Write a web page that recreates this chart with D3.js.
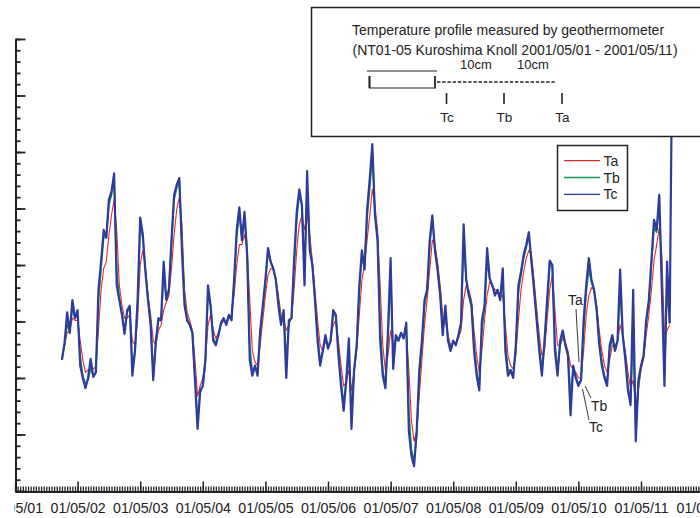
<!DOCTYPE html>
<html>
<head>
<meta charset="utf-8">
<script src="https://cdn.jsdelivr.net/npm/d3@7"></script>
<style>
  html, body { margin: 0; padding: 0; background: #fff; }
  svg { display: block; font-family: "Liberation Sans", Arial, Helvetica, sans-serif; }
</style>
</head>
<body>
<div id="chart"></div>
<script>
// ── Data (hourly readings, starting 2001/05/01 18:00) ──────────────
const startHour = 18;

const tc = [
  11.6, 13.1, 15.8, 14.0, 16.9, 15.3, 16.0, 11.1, 10.0, 9.1,
  10.0, 11.7, 10.1, 10.5, 17.8, 20.3, 23.1, 22.4, 25.8, 26.5,
  28.1, 18.2, 16.9, 15.6, 13.9, 16.0, 16.4, 10.2, 12.4, 16.9,
  24.2, 22.7, 19.4, 16.9, 14.7, 9.8, 13.3, 15.3, 15.1, 20.3,
  16.9, 17.8, 22.2, 26.2, 27.1, 27.7, 21.3, 16.4, 15.1, 14.7,
  14.0, 9.8, 5.5, 8.9, 9.3, 11.6, 18.2, 16.4, 13.3, 12.9,
  13.8, 14.9, 15.3, 14.7, 15.6, 15.1, 18.7, 23.1, 25.1, 22.2,
  24.7, 20.9, 11.6, 10.2, 11.1, 10.2, 14.2, 16.4, 18.7, 21.5,
  20.3, 19.7, 18.7, 16.4, 14.7, 16.0, 10.0, 15.1, 15.3, 20.4,
  24.7, 26.7, 25.3, 18.2, 28.3, 21.3, 20.0, 16.9, 13.3, 11.1,
  12.4, 13.8, 12.6, 13.3, 16.0, 15.6, 12.0, 9.3, 7.1, 9.8,
  13.5, 5.5, 10.7, 12.9, 18.2, 21.3, 19.6, 24.9, 27.6, 30.7,
  24.4, 22.2, 13.3, 10.2, 9.1, 14.2, 20.6, 10.8, 13.8, 13.3,
  14.0, 13.5, 14.9, 5.3, 3.1, 2.2, 5.3, 10.7, 13.3, 16.9,
  17.8, 22.2, 24.4, 21.3, 19.6, 17.3, 13.8, 16.4, 13.3, 12.4,
  13.3, 12.9, 13.8, 14.9, 23.6, 18.7, 17.3, 16.4, 12.4, 10.2,
  8.9, 15.1, 16.4, 21.5, 18.8, 18.2, 17.3, 17.8, 16.9, 19.7,
  12.4, 10.2, 10.7, 10.0, 12.9, 18.2, 19.4, 20.9, 21.8, 22.9,
  20.3, 17.8, 15.1, 12.4, 10.2, 13.3, 16.9, 20.4, 20.0, 12.4,
  10.2, 13.3, 14.2, 12.9, 12.0, 6.7, 11.1, 10.0, 9.3, 9.8,
  15.1, 18.2, 20.6, 18.7, 17.8, 16.0, 12.9, 11.1, 10.0, 9.3,
  12.9, 13.8, 12.4, 13.3, 19.6, 13.8, 11.6, 8.9, 7.6, 17.8,
  4.4, 9.8, 11.1, 12.0, 15.1, 16.9, 20.4, 24.0, 23.1, 26.2,
  17.8, 9.3, 20.3, 14.9, 40.0
];

const tb = [
  11.7, 12.9, 14.7, 14.2, 16.2, 15.3, 15.6, 12.0, 10.2, 9.5,
  9.8, 10.8, 10.2, 10.5, 16.9, 19.7, 22.4, 22.6, 25.3, 26.2,
  27.6, 19.6, 17.1, 15.7, 14.2, 15.8, 16.2, 11.1, 12.3, 16.4,
  23.6, 22.4, 19.6, 17.1, 14.9, 10.5, 12.9, 15.1, 15.1, 19.1,
  17.1, 17.8, 21.8, 25.8, 26.8, 27.4, 22.2, 16.9, 15.3, 14.7,
  14.0, 10.2, 6.2, 8.7, 9.3, 11.4, 17.3, 16.4, 13.5, 13.1,
  13.8, 14.8, 15.3, 14.8, 15.5, 15.3, 18.2, 22.4, 24.7, 22.4,
  24.2, 21.3, 12.9, 10.5, 11.0, 10.5, 13.8, 16.2, 18.4, 21.2,
  20.3, 19.7, 18.7, 16.7, 14.9, 15.8, 11.6, 14.9, 15.3, 19.7,
  24.0, 26.2, 25.3, 19.6, 27.1, 21.8, 20.0, 17.1, 13.8, 11.6,
  12.3, 13.6, 12.7, 13.3, 15.6, 15.5, 12.4, 9.8, 7.8, 9.6,
  12.4, 6.7, 10.5, 12.7, 17.6, 20.9, 19.7, 24.2, 26.8, 29.8,
  24.7, 22.4, 14.7, 10.7, 9.3, 13.5, 19.1, 11.6, 13.5, 13.3,
  13.9, 13.6, 14.7, 7.1, 3.6, 2.7, 4.9, 10.0, 12.9, 16.4,
  17.6, 21.8, 24.0, 21.5, 19.7, 17.6, 14.2, 15.8, 13.5, 12.6,
  13.2, 13.0, 13.7, 14.8, 21.8, 18.7, 17.5, 16.6, 12.9, 10.7,
  9.2, 14.2, 16.2, 20.3, 18.8, 18.2, 17.4, 17.8, 16.9, 18.8,
  13.2, 10.7, 10.7, 10.2, 12.4, 17.6, 19.1, 20.6, 21.5, 22.6,
  20.4, 18.0, 15.4, 12.8, 10.7, 12.9, 16.4, 19.9, 20.0, 13.3,
  10.7, 12.9, 14.0, 13.0, 12.1, 8.4, 10.8, 10.1, 9.5, 9.8,
  14.2, 17.6, 19.6, 18.5, 17.8, 16.2, 13.3, 11.4, 10.2, 9.6,
  12.4, 13.5, 12.6, 13.2, 17.8, 13.8, 11.9, 9.3, 8.0, 14.2,
  5.3, 9.3, 11.0, 12.0, 14.9, 16.7, 20.0, 23.3, 22.9, 25.6,
  18.7, 10.2, 17.8, 14.9
];

const ta = [
  12.0, 12.9, 14.0, 14.2, 15.3, 15.1, 15.1, 13.3, 11.6, 10.5,
  10.7, 10.8, 10.8, 11.0, 14.2, 17.8, 19.7, 20.3, 22.7, 24.4,
  25.8, 23.1, 18.2, 16.4, 15.3, 15.3, 15.6, 13.3, 12.9, 15.1,
  20.0, 21.3, 19.7, 17.3, 15.6, 13.3, 12.9, 14.2, 14.7, 16.0,
  16.7, 17.3, 19.7, 22.7, 24.9, 26.0, 23.6, 17.8, 15.8, 15.1,
  14.2, 11.6, 8.4, 9.3, 10.0, 11.6, 14.7, 15.6, 14.2, 13.5,
  14.0, 14.7, 15.1, 14.9, 15.3, 15.6, 17.3, 20.0, 21.8, 21.8,
  22.7, 21.3, 16.9, 12.4, 11.4, 11.1, 12.9, 15.1, 17.3, 19.1,
  19.7, 19.6, 18.8, 17.3, 15.6, 15.3, 14.2, 14.7, 15.3, 17.8,
  21.3, 23.6, 24.4, 23.1, 24.4, 22.7, 20.4, 17.8, 15.1, 12.9,
  12.4, 13.2, 12.9, 13.3, 14.7, 15.1, 13.3, 11.1, 9.3, 9.6,
  10.7, 8.9, 10.7, 12.4, 15.6, 18.7, 20.0, 22.2, 24.4, 26.7,
  25.3, 23.1, 18.2, 12.9, 10.7, 12.0, 14.2, 12.9, 13.3, 13.5,
  13.8, 13.8, 14.2, 10.7, 6.2, 4.4, 5.3, 8.4, 11.6, 14.7,
  16.9, 19.6, 22.2, 21.8, 20.3, 18.2, 15.6, 15.1, 13.8, 12.9,
  13.2, 13.1, 13.5, 14.2, 16.9, 18.2, 17.8, 16.9, 14.2, 12.0,
  10.5, 12.4, 15.1, 17.3, 18.5, 18.2, 17.8, 17.8, 17.1, 17.3,
  14.7, 12.0, 11.1, 10.8, 12.0, 15.1, 17.8, 19.4, 20.6, 21.3,
  20.9, 18.7, 16.2, 13.8, 12.0, 12.4, 15.1, 17.8, 19.1, 16.0,
  12.9, 12.9, 13.5, 13.2, 12.4, 11.1, 10.8, 10.5, 10.0, 10.0,
  12.4, 15.6, 17.3, 18.0, 17.8, 16.4, 14.2, 12.4, 11.1, 10.5,
  11.6, 12.9, 12.9, 13.2, 14.7, 13.8, 12.4, 10.5, 9.1, 9.8,
  7.6, 8.9, 10.7, 11.7, 13.8, 15.6, 17.8, 20.4, 21.8, 23.3,
  20.9, 13.8, 14.2, 14.7
];

const series = [
  { name: "Ta", values: ta, color: "#e8262e", width: 1.1 },
  { name: "Tb", values: tb, color: "#14985a", width: 1.6 },
  { name: "Tc", values: tc, color: "#2d3c9c", width: 2.2 }
];

const dayStart = new Date(2001, 4, 1);
const dayEnd   = new Date(2001, 4, 12);
const yMajor = d3.range(0, 41, 5);
const yMinor = d3.range(0, 41, 1);

// ── Layout ─────────────────────────────────────────────────────────
const W = 700, H = 518;
const plot = { left: 15.5, top: 39, bottom: 491.5, dayPx: 62.6 };

const svg = d3.select("#chart").append("svg")
  .attr("width", W).attr("height", H);

const x = d3.scaleTime()
  .domain([dayStart, dayEnd])
  .range([15, 15 + plot.dayPx * 11]);

const y = d3.scaleLinear()
  .domain([0, 40])
  .range([plot.bottom - 0.5, plot.top]);

const dateAt = i => d3.timeHour.offset(dayStart, startHour + i);

svg.append("clipPath").attr("id", "plotClip")
  .append("rect")
  .attr("x", plot.left).attr("y", plot.top)
  .attr("width", W - plot.left).attr("height", plot.bottom - plot.top);

// ── Lines ──────────────────────────────────────────────────────────
const line = d3.line()
  .defined(d => d != null)
  .x((d, i) => x(dateAt(i)))
  .y(d => y(d));

const lines = svg.append("g").attr("clip-path", "url(#plotClip)");
series.forEach(s => {
  lines.append("path")
    .attr("d", line(s.values))
    .attr("fill", "none")
    .attr("stroke", s.color)
    .attr("stroke-width", s.width)
    .attr("stroke-linejoin", "round");
});

// ── Axes ───────────────────────────────────────────────────────────
const ink = "#222";

// bottom: hourly minor ticks, daily major ticks with labels
svg.append("g")
  .attr("transform", `translate(0,${plot.bottom})`)
  .call(d3.axisBottom(x).ticks(d3.timeHour.every(1)).tickSize(-5).tickSizeOuter(0).tickFormat(""))
  .call(g => g.select(".domain").remove())
  .call(g => g.selectAll(".tick line").attr("stroke", ink).attr("stroke-width", 1.3));

svg.append("g")
  .attr("transform", `translate(0,${plot.bottom})`)
  .call(d3.axisBottom(x).ticks(d3.timeDay.every(1)).tickSize(-10).tickSizeOuter(0)
    .tickPadding(11).tickFormat(d3.timeFormat("%y/%m/%d")))
  .attr("font-size", 14.2)
  .attr("font-family", '"Liberation Sans", Arial, sans-serif')
  .call(g => g.select(".domain").attr("stroke", ink).attr("stroke-width", 2.2))
  .call(g => g.selectAll(".tick line").attr("stroke", ink).attr("stroke-width", 1.5))
  .call(g => g.selectAll(".tick text").attr("fill", ink));

// the figure is trimmed just left of the value axis
svg.append("rect")
  .attr("x", 0).attr("y", 0).attr("width", plot.left - 1).attr("height", H)
  .attr("fill", "#fff");

// left: ticks point inwards, labels fall outside the picture
svg.append("g")
  .attr("transform", `translate(${plot.left},0)`)
  .call(d3.axisLeft(y).tickValues(yMinor).tickSize(-5).tickSizeOuter(0).tickFormat(""))
  .call(g => g.select(".domain").attr("stroke", ink).attr("stroke-width", 2))
  .call(g => g.selectAll(".tick line").attr("stroke", ink).attr("stroke-width", 1.8));

svg.append("g")
  .attr("transform", `translate(${plot.left},0)`)
  .call(d3.axisLeft(y).tickValues(yMajor).tickSize(-10).tickSizeOuter(0).tickFormat(""))
  .call(g => g.select(".domain").remove())
  .call(g => g.selectAll(".tick line").attr("stroke", ink).attr("stroke-width", 1.8));

// ── Annotations next to the curves ─────────────────────────────────
const ann = svg.append("g").attr("font-size", 14).attr("fill", ink);
ann.append("text").attr("x", 568).attr("y", 305).text("Ta");
ann.append("text").attr("x", 591).attr("y", 411).text("Tb");
ann.append("text").attr("x", 589).attr("y", 432).text("Tc");
[[576, 309, 579, 362], [585, 386, 591, 398], [582.5, 389, 589, 420]].forEach(([x1, y1, x2, y2]) => {
  ann.append("line")
    .attr("x1", x1).attr("y1", y1).attr("x2", x2).attr("y2", y2)
    .attr("stroke", ink).attr("stroke-width", 0.9);
});

// ── Inset: title + probe sketch ────────────────────────────────────
const inset = svg.append("g").attr("fill", ink);
inset.append("rect")
  .attr("x", 311.5).attr("y", 7.5).attr("width", 400).attr("height", 129)
  .attr("fill", "#fff").attr("stroke", ink).attr("stroke-width", 1.5);

inset.append("text").attr("x", 352).attr("y", 35).attr("font-size", 14)
  .text("Temperature profile measured by geothermometer");
inset.append("text").attr("x", 352.5).attr("y", 55).attr("font-size", 14)
  .text("(NT01-05 Kuroshima Knoll 2001/05/01 - 2001/05/11)");

inset.append("text").attr("x", 476).attr("y", 69).attr("font-size", 13)
  .attr("text-anchor", "middle").text("10cm");
inset.append("text").attr("x", 533).attr("y", 69).attr("font-size", 13)
  .attr("text-anchor", "middle").text("10cm");

inset.append("line").attr("x1", 367).attr("y1", 71).attr("x2", 437).attr("y2", 71)
  .attr("stroke", ink).attr("stroke-width", 1);
inset.append("path").attr("d", "M369.5,76V88H434.5").attr("fill", "none")
  .attr("stroke", ink).attr("stroke-width", 1.2);
inset.append("line").attr("x1", 369.5).attr("y1", 76).attr("x2", 369.5).attr("y2", 88)
  .attr("stroke", ink).attr("stroke-width", 2);
inset.append("line").attr("x1", 435).attr("y1", 76).attr("x2", 435).attr("y2", 88.5)
  .attr("stroke", ink).attr("stroke-width", 1.8);
inset.append("line").attr("x1", 437).attr("y1", 82).attr("x2", 556).attr("y2", 82)
  .attr("stroke", ink).attr("stroke-width", 1.3).attr("stroke-dasharray", "3.4,1.8");

[["Tc", 446.5], ["Tb", 504], ["Ta", 562]].forEach(([label, px]) => {
  inset.append("line").attr("x1", px).attr("y1", 93).attr("x2", px).attr("y2", 104)
    .attr("stroke", ink).attr("stroke-width", 1.6);
  inset.append("text").attr("x", px + 0.5).attr("y", 121.5).attr("font-size", 13.5)
    .attr("text-anchor", "middle").text(label);
});

// ── Legend ─────────────────────────────────────────────────────────
const legend = svg.append("g").attr("transform", "translate(557.5,145.5)");
legend.append("rect").attr("width", 70).attr("height", 65)
  .attr("fill", "#fff").attr("stroke", ink).attr("stroke-width", 1.5);
series.forEach((s, i) => {
  const row = legend.append("g").attr("transform", `translate(0,${15.2 + i * 16.8})`);
  row.append("line").attr("x1", 6.5).attr("x2", 42.5)
    .attr("stroke", s.color).attr("stroke-width", 1.3);
  row.append("text").attr("x", 46).attr("y", 5).attr("font-size", 14)
    .attr("fill", ink).text(s.name);
});
</script>
</body>
</html>
